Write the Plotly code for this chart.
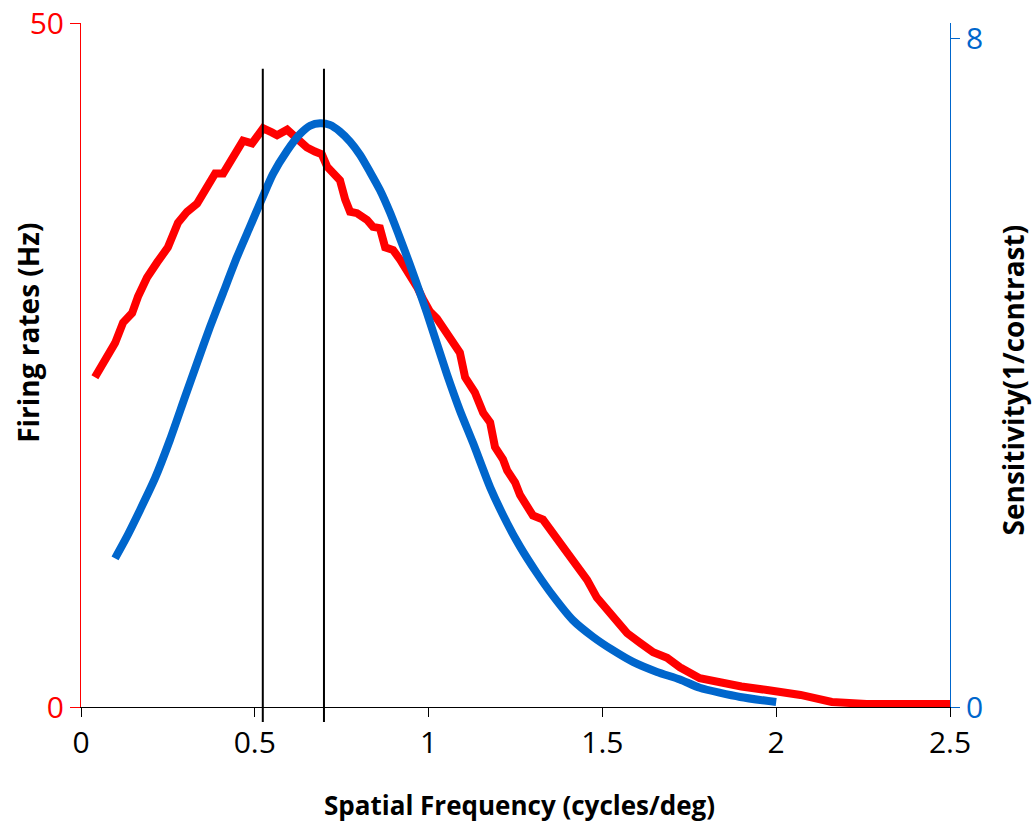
import plotly.graph_objects as go

# Firing rates (Hz), left axis, red
red_x = [0.04, 0.075, 0.098, 0.121, 0.147, 0.164, 0.19, 0.219, 0.25, 0.279, 0.305, 0.334,
         0.365, 0.386, 0.409, 0.429, 0.452, 0.466, 0.492, 0.506, 0.524, 0.549, 0.564, 0.593,
         0.621, 0.65, 0.673, 0.693, 0.708, 0.725, 0.745, 0.76, 0.774, 0.794, 0.823, 0.84,
         0.86, 0.875, 0.898, 0.918, 0.946, 0.967, 0.984, 1.004, 1.024, 1.062, 1.09, 1.105,
         1.133, 1.157, 1.177, 1.191, 1.214, 1.226, 1.249, 1.263, 1.30, 1.329, 1.358, 1.387,
         1.415, 1.436, 1.456, 1.484, 1.522, 1.551, 1.571, 1.608, 1.646, 1.686, 1.723, 1.78,
         1.84, 1.9, 1.974, 2.07, 2.16, 2.26, 2.5]
red_y = [24.1, 25.7, 26.6, 28.1, 28.8, 30.0, 31.4, 32.5, 33.6, 35.4, 36.2, 36.8,
         38.0, 39.0, 39.0, 39.8, 40.7, 41.4, 41.2, 41.6, 42.3, 42.0, 41.8, 42.2,
         41.6, 40.9, 40.6, 40.4, 39.5, 39.1, 38.5, 37.1, 36.2, 36.1, 35.6, 35.1,
         35.0, 33.6, 33.4, 32.7, 31.7, 30.7, 29.8, 28.9, 28.4, 26.8, 25.9, 24.1,
         23.0, 21.5, 20.8, 19.0, 18.1, 17.3, 16.4, 15.5, 14.0, 13.7, 12.7, 11.5,
         10.6, 10.0, 9.3, 8.0, 6.9, 6.0, 5.4, 4.7, 4.0, 3.6, 2.9, 2.1,
         1.75, 1.5, 1.24, 0.88, 0.37, 0.22, 0.22]

# Sensitivity (1/contrast), right axis, blue
blue_x = [0.098, 0.127, 0.17, 0.213, 0.256, 0.299, 0.334, 0.371, 0.409, 0.449, 0.486, 0.521,
          0.552, 0.593, 0.63, 0.659, 0.688, 0.716, 0.745, 0.774, 0.803, 0.831, 0.86, 0.889,
          0.918, 0.946, 0.975, 0.995, 1.053, 1.09, 1.128, 1.177, 1.226, 1.263, 1.312, 1.358,
          1.415, 1.473, 1.53, 1.588, 1.657, 1.723, 1.78, 1.896, 2.0]
blue_y = [1.78, 2.0, 2.36, 2.74, 3.2, 3.71, 4.12, 4.55, 4.96, 5.39, 5.75, 6.09,
          6.38, 6.66, 6.86, 6.96, 6.99, 6.97, 6.89, 6.77, 6.61, 6.41, 6.19, 5.92,
          5.61, 5.30, 4.96, 4.72, 3.98, 3.55, 3.16, 2.63, 2.2, 1.92, 1.6, 1.33,
          1.04, 0.84, 0.68, 0.54, 0.42, 0.33, 0.23, 0.12, 0.06]

# vertical markers (cycles/deg)
vlines = [0.523, 0.699]

x_ticks = [0, 0.5, 1, 1.5, 2, 2.5]
x_ticklabels = ["0", "0.5", "1", "1.5", "2", "2.5"]
left_ticks = [0, 50]
right_ticks = [0, 8]

FONT = "Open Sans"
RED = "#FF0000"
BLUE = "#0066CC"

fig = go.Figure()
fig.add_trace(go.Scatter(x=blue_x, y=blue_y, mode="lines", yaxis="y2",
                         line=dict(color=BLUE, width=8, shape="spline", smoothing=0.6),
                         showlegend=False))
fig.add_trace(go.Scatter(x=red_x, y=red_y, mode="lines", yaxis="y",
                         line=dict(color=RED, width=8), showlegend=False))

for v in vlines:
    fig.add_shape(type="line", xref="x", yref="paper", x0=v, x1=v,
                  y0=-0.022, y1=0.933, line=dict(color="black", width=2))

fig.update_layout(
    width=1032, height=825,
    margin=dict(l=81, r=82, t=23, b=118, autoexpand=False),
    paper_bgcolor="white", plot_bgcolor="white",
    font=dict(family=FONT, color="black"),
    xaxis=dict(range=[0, 2.5], tickvals=x_ticks, ticktext=x_ticklabels, automargin=False,
               showgrid=False, zeroline=False, showline=True, linecolor="black",
               linewidth=1, ticks="outside", ticklen=9, tickcolor="black",
               tickfont=dict(size=30, color="black", family=FONT)),
    yaxis=dict(range=[0, 50], tickvals=left_ticks, showgrid=False, zeroline=False,
               automargin=False,
               showline=True, linecolor=RED, linewidth=1, ticks="outside", ticklen=10,
               tickcolor=RED, tickfont=dict(size=30, color=RED, family=FONT)),
    yaxis2=dict(range=[0, 8.19], tickvals=right_ticks, overlaying="y", side="right",
                automargin=False,
                showgrid=False, zeroline=False, showline=True, linecolor=BLUE, linewidth=1,
                ticks="outside", ticklen=9, tickcolor=BLUE,
                tickfont=dict(size=30, color=BLUE, family=FONT)),
    annotations=[
        dict(text="<b>Spatial Frequency (cycles/deg)</b>", xref="paper", yref="paper",
             x=0.505, y=-0.144, xanchor="center", yanchor="middle", showarrow=False,
             font=dict(size=26, family=FONT, color="black")),
        dict(text="<b>Firing rates (Hz)</b>", xref="paper", yref="paper",
             x=-0.061, y=0.547, xanchor="center", yanchor="middle", showarrow=False,
             textangle=-90, font=dict(size=28, family=FONT, color="black")),
        dict(text="<b>Sensitivity(1/contrast)</b>", xref="paper", yref="paper",
             x=1.073, y=0.478, xanchor="center", yanchor="middle", showarrow=False,
             textangle=-90, font=dict(size=28, family=FONT, color="black")),
    ],
)

fig.write_html("out.html")
